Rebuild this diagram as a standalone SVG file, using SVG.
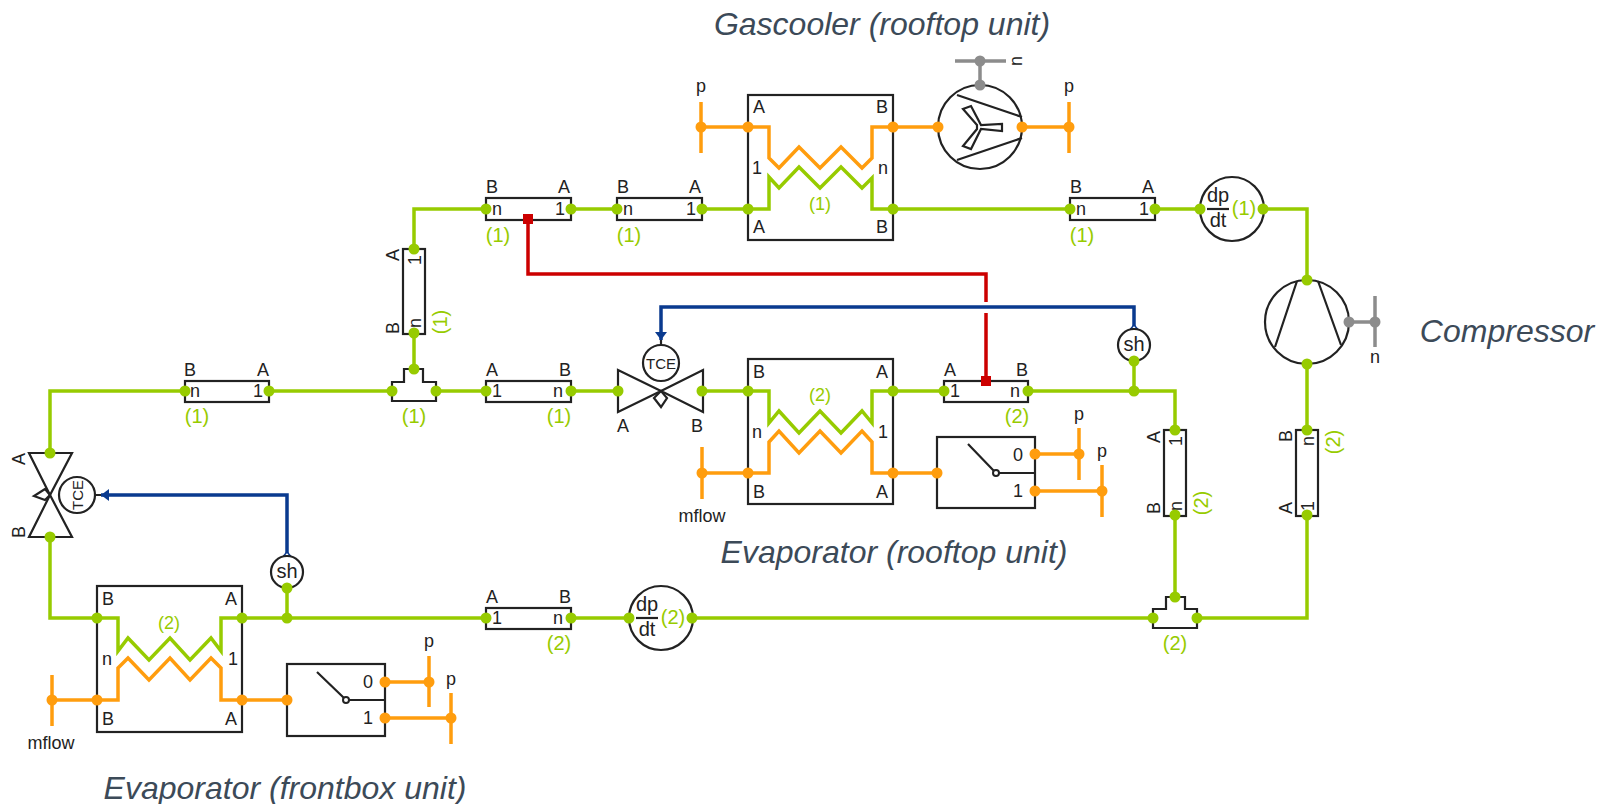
<svg xmlns="http://www.w3.org/2000/svg" width="1604" height="804" viewBox="0 0 1604 804">
<style>
text{font-family:"Liberation Sans",Arial,sans-serif;font-size:18px;fill:#222;text-anchor:middle}
.g{fill:#97cb00;font-size:20px}
.gs{fill:#97cb00;font-size:18px}
.title{font-size:32px;font-style:italic;fill:#3c4a58}
.tce{font-size:15px}
.sh{font-size:20px}
.dp{font-size:20px}
.box{fill:#fff;stroke:#222;stroke-width:2.2}
.ln{fill:none;stroke:#222;stroke-width:2.2}
.wg{fill:none;stroke:#97cb00;stroke-width:3.5}
.wo{fill:none;stroke:#ff9d0e;stroke-width:3.5}
.wy{fill:none;stroke:#8c8c8c;stroke-width:3.5}
.wr{fill:none;stroke:#cc0000;stroke-width:3.5}
.wb{fill:none;stroke:#0a3a8f;stroke-width:3.5}
.dg{fill:#97cb00}.do{fill:#ff9d0e}.dy{fill:#8c8c8c}.dr{fill:#cc0000}
circle.dg,circle.do,circle.dy{r:5.5px}
</style>
<defs>
<marker id="arrow" markerUnits="userSpaceOnUse" markerWidth="14" markerHeight="14" refX="8" refY="6" orient="auto"><path d="M0 0L8 6L0 12Z" fill="#0a3a8f"/></marker>
<marker id="tail" markerUnits="userSpaceOnUse" markerWidth="10" markerHeight="10" refX="1" refY="4.5" orient="auto"><path d="M1 1L5 4.5L1 8Z" fill="#fff" stroke="#0a3a8f" stroke-width="1.5"/></marker>
</defs>
<g id="connectors">
<path class="wg" d="M414 369V333M414 249V209H486M571 209H617M702 209H748M893 209H1070M1155 209H1200M1263 209H1307V280M1307 364V430M1307 516V618H1197M1153 618H692M629 618H571M486 618H242M97 618H50V537M50 453V391H185M269 391H392M436 391H486M571 391H618M703 391H748M893 391H944M1028 391H1175V430M1175 516V597M287 618V588M1134 391V361"/>
<path class="wo" d="M701 127H748M893 127H938M1022 127H1069M702 473H748M893 473H937M1035 454H1079M1035 491H1102M52 700H97M242 700H287M385 682H429M385 718H451"/>
<path class="wy" d="M980 85V61M1349 322H1375"/>
<path class="wr" d="M528 219V274H986V302M986 313V381"/>
<path class="wb" d="M1134 329V307H661V340" marker-start="url(#tail)" marker-end="url(#arrow)"/>
<path class="wb" d="M287 556V495H101" marker-start="url(#tail)" marker-end="url(#arrow)"/>
</g>
<g id="stubs">
<path class="wo" d="M701 102V153M1069 102V153M702 447V499M1079 428V480M1102 465V517M52 675V726M429 656V707M451 693V744"/>
<path class="wy" d="M955 61H1006M1375 296V347"/>
<path class="ln" d="M661 340V345M101 495H95"/>
</g>
<g id="gascooler">
<rect class="box" x="748" y="95" width="145" height="145"/>
<path class="wo" d="M748 127H769V158L779 168L799 147L820 168L841 147L862 168L872 158V127H893"/>
<path class="wg" d="M748 209H769V177L779 188L799 167L820 188L841 167L862 188L872 178V209H893"/>
<text x="759" y="113">A</text><text x="882" y="113">B</text><text x="757" y="174">1</text><text x="883" y="174">n</text><text x="759" y="233">A</text><text x="882" y="233">B</text><text class="gs" x="820" y="210">(1)</text>
<circle class="do" cx="748" cy="127" r="5"/><circle class="do" cx="893" cy="127" r="5"/><circle class="dg" cx="748" cy="209" r="5"/><circle class="dg" cx="893" cy="209" r="5"/>
</g>
<g id="fan">
<circle class="box" cx="980" cy="127" r="42"/>
<path class="ln" d="M957 95L1022 117M957 160L1022 138"/>
<path class="ln" d="M977 125L963 109L971 106L981 125L1002 124V131L981 129L971 149L963 146L977 129Z"/>
<circle class="dy" cx="980" cy="85" r="5"/><circle class="dy" cx="980" cy="61" r="5"/><circle class="do" cx="938" cy="127" r="5"/><circle class="do" cx="1022" cy="127" r="5"/>
<text transform="translate(1022 61) rotate(-90)">n</text>
<text x="701" y="92">p</text><text x="1069" y="92">p</text>
<circle class="do" cx="701" cy="127" r="5"/><circle class="do" cx="1069" cy="127" r="5"/>
</g>
<g id="pipe-top-1"><rect class="box" x="486" y="198" width="85" height="22"/><text x="492" y="193">B</text><text x="564" y="193">A</text><text x="497" y="215">n</text><text x="560" y="215">1</text><text class="g" x="498" y="242">(1)</text><circle class="dg" cx="486" cy="209" r="5"/><circle class="dg" cx="571" cy="209" r="5"/><rect class="dr" x="523" y="214" width="10" height="10"/></g>
<g id="pipe-top-2"><rect class="box" x="617" y="198" width="85" height="22"/><text x="623" y="193">B</text><text x="695" y="193">A</text><text x="628" y="215">n</text><text x="691" y="215">1</text><text class="g" x="629" y="242">(1)</text><circle class="dg" cx="617" cy="209" r="5"/><circle class="dg" cx="702" cy="209" r="5"/></g>
<g id="pipe-top-3"><rect class="box" x="1070" y="198" width="85" height="22"/><text x="1076" y="193">B</text><text x="1148" y="193">A</text><text x="1081" y="215">n</text><text x="1144" y="215">1</text><text class="g" x="1082" y="242">(1)</text><circle class="dg" cx="1070" cy="209" r="5"/><circle class="dg" cx="1155" cy="209" r="5"/></g>
<g id="dpdt-1"><circle class="box" cx="1232" cy="209" r="32"/><text class="dp" x="1218" y="202">dp</text><path class="ln" d="M1207 209H1229"/><text class="dp" x="1218" y="227">dt</text><text class="g" x="1244" y="215">(1)</text><circle class="dg" cx="1200" cy="209" r="5"/><circle class="dg" cx="1263" cy="209" r="5"/></g>
<g id="compressor"><circle class="box" cx="1307" cy="322" r="42"/><path class="ln" d="M1297 281L1275 347M1318 281L1341 345"/><circle class="dg" cx="1307" cy="280" r="5"/><circle class="dg" cx="1307" cy="364" r="5"/><circle class="dy" cx="1349" cy="322" r="5"/><circle class="dy" cx="1375" cy="322" r="5"/><text x="1375" y="363">n</text></g>
<g id="pipe-right"><rect class="box" x="1296" y="430" width="22" height="86"/><text transform="translate(1292 436) rotate(-90)">B</text><text transform="translate(1292 508) rotate(-90)">A</text><text transform="translate(1314 441) rotate(-90)">n</text><text transform="translate(1314 506) rotate(-90)">1</text><text class="g" transform="translate(1340 442) rotate(-90)">(2)</text><circle class="dg" cx="1307" cy="430" r="5"/><circle class="dg" cx="1307" cy="515" r="5"/></g>
<g id="pipe-mid-v"><rect class="box" x="1164" y="430" width="22" height="86"/><text transform="translate(1160 437) rotate(-90)">A</text><text transform="translate(1160 508) rotate(-90)">B</text><text transform="translate(1182 441) rotate(-90)">1</text><text transform="translate(1182 506) rotate(-90)">n</text><text class="g" transform="translate(1208 503) rotate(-90)">(2)</text><circle class="dg" cx="1175" cy="430" r="5"/><circle class="dg" cx="1175" cy="515" r="5"/></g>
<g id="tee-2"><path class="box" d="M1153 628V609H1166V597H1185V609H1197V628Z"/><text class="g" x="1175" y="650">(2)</text><circle class="dg" cx="1175" cy="597" r="5"/><circle class="dg" cx="1153" cy="618" r="5"/><circle class="dg" cx="1197" cy="618" r="5"/></g>
<g id="sh-1"><circle class="box" cx="1134" cy="345" r="16"/><text class="sh" x="1134" y="351">sh</text><circle class="dg" cx="1134" cy="361" r="5"/><circle class="dg" cx="1134" cy="391" r="5"/></g>
<g id="valve-1"><path class="ln" d="M661 391L618 370V412ZM661 391L703 370V412Z"/><path class="ln" d="M661 391L654 398L661 407L667 398Z"/><circle class="box" cx="661" cy="363" r="18"/><text class="tce" x="661" y="369">TCE</text><text x="623" y="432">A</text><text x="697" y="432">B</text><circle class="dg" cx="618" cy="391" r="5"/><circle class="dg" cx="702" cy="391" r="5"/></g>
<g id="evap-roof"><rect class="box" x="748" y="359" width="145" height="145"/>
<path class="wg" d="M748 391H769V423L779 411L799 433L820 411L841 433L862 411L872 423V391H893"/>
<path class="wo" d="M748 473H769V442L779 431L799 453L820 431L841 453L862 431L872 442V473H893"/>
<text x="759" y="378">B</text><text x="882" y="378">A</text><text x="757" y="438">n</text><text x="883" y="438">1</text><text x="759" y="498">B</text><text x="882" y="498">A</text><text class="gs" x="820" y="401">(2)</text>
<circle class="dg" cx="748" cy="391" r="5"/><circle class="dg" cx="893" cy="391" r="5"/><circle class="do" cx="748" cy="473" r="5"/><circle class="do" cx="893" cy="473" r="5"/>
<circle class="do" cx="702" cy="473" r="5"/><text x="702" y="522">mflow</text></g>
<g id="pipe-roof"><rect class="box" x="944" y="381" width="84" height="21"/><text x="950" y="376">A</text><text x="1022" y="376">B</text><text x="955" y="397">1</text><text x="1015" y="397">n</text><text class="g" x="1017" y="423">(2)</text><circle class="dg" cx="944" cy="391" r="5"/><circle class="dg" cx="1028" cy="391" r="5"/><rect class="dr" x="981" y="376" width="10" height="10"/></g>
<g id="switch-roof"><rect class="box" x="937" y="437" width="98" height="71"/><path class="ln" d="M968 444L994 471M999 473H1035"/><circle cx="996" cy="473" r="3" fill="#fff" stroke="#222" stroke-width="2"/><text x="1018" y="461">0</text><text x="1018" y="497">1</text><circle class="do" cx="937" cy="473" r="5"/><circle class="do" cx="1035" cy="454" r="5"/><circle class="do" cx="1035" cy="491" r="5"/><circle class="do" cx="1079" cy="454" r="5"/><circle class="do" cx="1102" cy="491" r="5"/><text x="1079" y="420">p</text><text x="1102" y="457">p</text></g>
<g id="pipe-row2-2"><rect class="box" x="486" y="381" width="85" height="21"/><text x="492" y="376">A</text><text x="565" y="376">B</text><text x="497" y="397">1</text><text x="558" y="397">n</text><text class="g" x="559" y="423">(1)</text><circle class="dg" cx="486" cy="391" r="5"/><circle class="dg" cx="571" cy="391" r="5"/></g>
<g id="pipe-row2-1"><rect class="box" x="185" y="381" width="84" height="21"/><text x="190" y="376">B</text><text x="263" y="376">A</text><text x="195" y="397">n</text><text x="258" y="397">1</text><text class="g" x="197" y="423">(1)</text><circle class="dg" cx="185" cy="391" r="5"/><circle class="dg" cx="269" cy="391" r="5"/></g>
<g id="tee-1"><path class="box" d="M392 401V382H404V369H423V382H436V401Z"/><text class="g" x="414" y="423">(1)</text><circle class="dg" cx="414" cy="369" r="5"/><circle class="dg" cx="392" cy="391" r="5"/><circle class="dg" cx="436" cy="391" r="5"/></g>
<g id="pipe-v-1"><rect class="box" x="403" y="249" width="22" height="85"/><text transform="translate(399 255) rotate(-90)">A</text><text transform="translate(399 328) rotate(-90)">B</text><text transform="translate(421 260) rotate(-90)">1</text><text transform="translate(421 323) rotate(-90)">n</text><text class="g" transform="translate(447 322) rotate(-90)">(1)</text><circle class="dg" cx="414" cy="249" r="5"/><circle class="dg" cx="414" cy="333" r="5"/></g>
<g id="valve-2"><path class="ln" d="M50 495L29 453H72ZM50 495L29 537H72Z"/><path class="ln" d="M50 495L45 489L34 496L45 500Z"/><circle class="box" cx="77" cy="495" r="18"/><text class="tce" transform="translate(83 495) rotate(-90)">TCE</text><text transform="translate(25 459) rotate(-90)">A</text><text transform="translate(25 532) rotate(-90)">B</text><circle class="dg" cx="50" cy="453" r="5"/><circle class="dg" cx="50" cy="537" r="5"/></g>
<g id="sh-2"><circle class="box" cx="287" cy="572" r="16"/><text class="sh" x="287" y="578">sh</text><circle class="dg" cx="287" cy="588" r="5"/><circle class="dg" cx="287" cy="618" r="5"/></g>
<g id="evap-front"><rect class="box" x="97" y="586" width="145" height="146"/>
<path class="wg" d="M97 618H118V651L128 638L149 660L170 638L190 660L211 638L221 651V618H242"/>
<path class="wo" d="M97 700H118V668L128 658L149 680L170 658L190 680L211 658L221 668V700H242"/>
<text x="108" y="605">B</text><text x="231" y="605">A</text><text x="107" y="665">n</text><text x="233" y="665">1</text><text x="108" y="725">B</text><text x="231" y="725">A</text><text class="gs" x="169" y="629">(2)</text>
<circle class="dg" cx="97" cy="618" r="5"/><circle class="dg" cx="242" cy="618" r="5"/><circle class="do" cx="97" cy="700" r="5"/><circle class="do" cx="242" cy="700" r="5"/><circle class="do" cx="52" cy="700" r="5"/><text x="51" y="749">mflow</text></g>
<g id="switch-front"><rect class="box" x="287" y="664" width="98" height="72"/><path class="ln" d="M317 672L344 698M349 700H385"/><circle cx="346" cy="700" r="3" fill="#fff" stroke="#222" stroke-width="2"/><text x="368" y="688">0</text><text x="368" y="724">1</text><circle class="do" cx="287" cy="700" r="5"/><circle class="do" cx="385" cy="682" r="5"/><circle class="do" cx="385" cy="718" r="5"/><circle class="do" cx="429" cy="682" r="5"/><circle class="do" cx="451" cy="718" r="5"/><text x="429" y="647">p</text><text x="451" y="685">p</text></g>
<g id="pipe-bottom"><rect class="box" x="486" y="608" width="85" height="21"/><text x="492" y="603">A</text><text x="565" y="603">B</text><text x="497" y="624">1</text><text x="558" y="624">n</text><text class="g" x="559" y="650">(2)</text><circle class="dg" cx="486" cy="618" r="5"/><circle class="dg" cx="571" cy="618" r="5"/></g>
<g id="dpdt-2"><circle class="box" cx="661" cy="618" r="32"/><text class="dp" x="647" y="611">dp</text><path class="ln" d="M636 618H658"/><text class="dp" x="647" y="636">dt</text><text class="g" x="673" y="624">(2)</text><circle class="dg" cx="629" cy="618" r="5"/><circle class="dg" cx="692" cy="618" r="5"/></g>
<g id="labels">
<text class="title" x="882" y="35">Gascooler (rooftop unit)</text>
<text class="title" x="1507" y="342">Compressor</text>
<text class="title" x="894" y="563">Evaporator (rooftop unit)</text>
<text class="title" x="285" y="799">Evaporator (frontbox unit)</text>
</g>
</svg>
